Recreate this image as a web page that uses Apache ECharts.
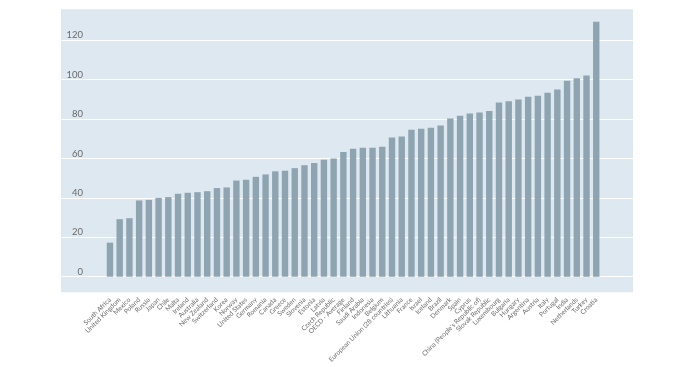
<!DOCTYPE html>
<html>
<head>
<meta charset="utf-8">
<script src="https://cdn.jsdelivr.net/npm/echarts@6/dist/echarts.min.js"></script>
<style>html,body{margin:0;padding:0;background:#fff}#c{width:700px;height:367px}</style>
</head>
<body>
<div id="c"></div>
<script>
const categories = ["South Africa","United Kingdom","Mexico","Poland","Russia","Japan","Chile","Malta","Ireland","Australia","New Zealand","Switzerland","Korea","Norway","United States","Germany","Romania","Canada","Greece","Sweden","Slovenia","Estonia","Latvia","Czech Republic","OECD - Average","Finland","Saudi Arabia","Indonesia","Belgium","European Union (28 countries)","Lithuania","France","Israel","Iceland","Brazil","Denmark","Spain","Cyprus","China (People's Republic of)","Slovak Republic","Luxembourg","Bulgaria","Hungary","Argentina","Austria","Italy","Portugal","India","Netherlands","Turkey","Croatia"];
const values = [17.3,29.2,29.7,38.7,39.0,40.0,40.4,42.1,42.6,42.9,43.4,45.0,45.3,48.8,49.2,50.7,51.9,53.5,53.8,55.1,56.6,57.7,59.4,60.0,63.3,64.9,65.5,65.5,66.0,70.7,71.2,74.6,75.1,75.6,76.7,80.3,81.7,82.8,83.3,84.1,88.4,89.0,89.9,91.3,91.9,93.4,95.0,99.5,100.7,102.1,129.4];
const yTicks = [0,20,40,60,80,100,120];

const chart = echarts.init(document.getElementById('c'), null, {renderer:'canvas'});
const fontFam = 'Lato,"Open Sans",sans-serif';
chart.setOption({
  animation:false,
  graphic:[{type:'rect',z:-10,shape:{x:61,y:9.3,width:572,height:283},style:{fill:'#dde8f1'}}],
  grid:[
    {left:61,right:67,top:40.3,bottom:90.3,outerBoundsMode:'none',containLabel:false},
    {left:105.1,right:98.9,top:40.3,bottom:90.3,outerBoundsMode:'none',containLabel:false}
  ],
  xAxis:[
    {gridIndex:0,type:'value',show:false,min:0,max:1},
    {gridIndex:1,type:'category',data:categories,
      axisLine:{show:false},axisTick:{show:false},
      axisLabel:{rotate:45,interval:0,margin:22,fontSize:6.6,color:'#6b6b6b',fontFamily:fontFam}}
  ],
  yAxis:[
    {gridIndex:0,type:'value',min:yTicks[0],max:yTicks[yTicks.length-1],interval:20,
      axisLine:{show:false},axisTick:{show:false},
      splitLine:{show:true,lineStyle:{color:'#ffffff',width:1}},
      axisLabel:{margin:-22,align:'right',verticalAlign:'bottom',fontSize:9.5,color:'#6b6b6b',fontFamily:fontFam}},
    {gridIndex:1,type:'value',min:0,max:120,show:false,splitLine:{show:false}}
  ],
  series:[{type:'bar',xAxisIndex:1,yAxisIndex:1,data:values,barWidth:6.4,clip:false,
    itemStyle:{color:'#8ea4b1'}}]
});
</script>
</body>
</html>
